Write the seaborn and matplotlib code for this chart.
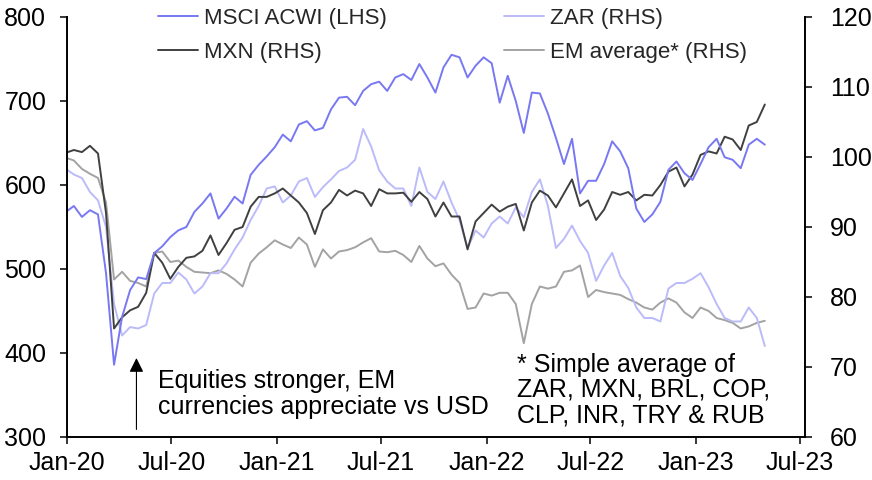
import matplotlib
matplotlib.use("Agg")
import matplotlib.pyplot as plt
import matplotlib.dates as mdates
import pandas as pd
import seaborn as sns

# ---------------------------------------- DATA ----------------------------------------
# fortnightly readings, Dec-19 to May-23
dates = pd.date_range("2019-12-30", periods=88, freq="14D")

acwi = [568, 575, 562, 570, 565, 495, 386, 443, 475, 490,
        488, 519, 527, 538, 546, 550, 568, 578, 590, 560,
        572, 586, 578, 612, 624, 634, 645, 660, 652, 672,
        676, 665, 668, 690, 704, 705, 695, 712, 720, 723,
        712, 728, 732, 725, 744, 728, 710, 740, 755, 752,
        728, 742, 752, 745, 698, 730, 700, 662, 710, 709,
        685, 656, 625, 655, 590, 605, 605, 625, 652, 640,
        620, 572, 556, 565, 580, 618, 628, 614, 606, 625,
        645, 655, 633, 630, 620, 648, 655, 648]

mxn = [100.6, 101.0, 100.7, 101.6, 100.5, 92.0, 75.5, 77.1, 78.1, 78.6,
       80.6, 86.3, 84.9, 82.6, 84.3, 85.6, 85.8, 86.6, 88.8, 86.0,
       87.7, 89.6, 90.0, 92.9, 94.3, 94.3, 94.8, 95.5, 94.5, 93.5,
       92.0, 89.0, 92.4, 93.5, 95.3, 94.5, 95.2, 94.8, 93.0, 95.4,
       94.8, 94.8, 94.9, 93.6, 95.0, 94.0, 91.5, 93.5, 91.5, 91.5,
       86.8, 90.8, 92.0, 93.2, 92.2, 92.9, 93.3, 89.5, 93.5, 95.2,
       94.5, 92.8, 94.8, 96.8, 93.0, 93.8, 91.0, 92.5, 95.0, 94.6,
       95.0, 93.8, 94.6, 94.5, 96.0, 97.9, 98.5, 95.8, 97.5, 100.3,
       100.8, 100.5, 102.9, 102.5, 101.0, 104.5, 105.0, 107.5]

zar = [98.3, 97.5, 97.0, 95.0, 93.8, 90.0, 79.0, 74.5, 75.7, 75.5,
       76.0, 80.5, 82.0, 82.0, 83.5, 82.5, 80.5, 81.5, 83.4, 83.4,
       84.8, 86.8, 88.5, 91.0, 93.0, 95.5, 95.8, 93.5, 94.5, 96.5,
       97.0, 94.3, 95.7, 96.8, 98.0, 98.5, 99.6, 104.0, 101.5, 98.1,
       96.5, 95.5, 95.5, 93.0, 98.5, 95.0, 94.0, 96.5, 93.5, 91.0,
       87.0, 89.5, 88.5, 90.5, 91.5, 90.5, 92.8, 91.4, 95.0, 96.8,
       93.0, 87.0, 88.3, 90.2, 88.0, 86.3, 82.3, 84.5, 86.3, 83.0,
       81.3, 78.5, 77.0, 77.0, 76.5, 81.2, 82.0, 82.0, 82.6, 83.4,
       81.4, 79.0, 77.0, 76.5, 76.5, 78.5, 77.0, 73.0]

em_avg = [99.9, 99.5, 98.3, 97.6, 97.0, 93.5, 82.5, 83.6, 82.3, 82.0,
          81.5, 86.3, 86.5, 85.0, 85.2, 84.3, 83.6, 83.5, 83.4, 83.8,
          83.3, 82.5, 81.5, 84.9, 86.2, 87.1, 88.1, 87.5, 87.0, 88.5,
          87.5, 84.3, 86.8, 85.5, 86.5, 86.7, 87.1, 87.8, 88.4, 86.5,
          86.4, 86.6, 86.0, 85.0, 87.3, 85.5, 84.4, 84.8, 83.2, 82.0,
          78.3, 78.5, 80.5, 80.2, 80.6, 80.6, 79.0, 73.4, 79.0, 81.5,
          81.2, 81.5, 83.6, 83.8, 84.5, 80.0, 81.0, 80.7, 80.5, 80.3,
          79.7, 79.2, 78.5, 78.2, 79.2, 79.8, 79.2, 77.8, 77.0, 78.5,
          78.0, 77.0, 76.7, 76.3, 75.5, 75.8, 76.3, 76.6]

df = pd.DataFrame({"date": dates, "acwi": acwi, "mxn": mxn, "zar": zar, "em": em_avg})

# ---------------------------------------- STYLE ----------------------------------------
sns.set_theme(style="ticks")
plt.rcParams["font.family"] = ["Liberation Sans", "DejaVu Sans"]
plt.rcParams.update({
    "font.size": 18,
    "axes.edgecolor": "black",
    "axes.linewidth": 1.4,
    "xtick.color": "black",
    "ytick.color": "black",
    "xtick.major.size": 5,
    "ytick.major.size": 5,
    "xtick.major.width": 1.1,
    "ytick.major.width": 1.1,
})

c_acwi = "#7878F2"
c_zar = "#BBBBFA"
c_mxn = "#404040"
c_em = "#A3A3A3"

fig = plt.figure(figsize=(8.72, 4.8), dpi=100)
ax = fig.add_axes([67 / 872, 43 / 480, 738 / 872, 420 / 480])
ax2 = ax.twinx()

# RHS first so the equity line sits on top
sns.lineplot(x="date", y="em", data=df, ax=ax2, color=c_em, lw=1.4, label="EM average* (RHS)", legend=False)
sns.lineplot(x="date", y="zar", data=df, ax=ax2, color=c_zar, lw=1.4, label="ZAR (RHS)", legend=False)
sns.lineplot(x="date", y="mxn", data=df, ax=ax2, color=c_mxn, lw=1.4, label="MXN (RHS)", legend=False)
sns.lineplot(x="date", y="acwi", data=df, ax=ax, color=c_acwi, lw=1.4, label="MSCI ACWI (LHS)", legend=False)

ax.set_zorder(ax2.get_zorder() + 1)
ax.patch.set_visible(False)

ax.set_ylim(300, 800)
ax.set_yticks(range(300, 801, 100))
ax2.set_ylim(60, 120)
ax2.set_yticks(range(60, 121, 10))
ax.set_xlim(pd.Timestamp("2020-01-01"), pd.Timestamp("2023-07-10"))
ax.xaxis.set_major_locator(mdates.MonthLocator(bymonth=[1, 7]))
ax.xaxis.set_major_formatter(mdates.DateFormatter("%b-%y"))

for a in (ax, ax2):
    a.set_xlabel("")
    a.set_ylabel("")
    a.spines["top"].set_visible(False)
    a.tick_params(axis="x", labelsize=18, pad=5)
ax.tick_params(axis="y", labelsize=18, pad=10)
ax2.tick_params(axis="y", labelsize=18, pad=13)
ax.spines["right"].set_visible(False)
ax2.spines["left"].set_visible(False)
ax2.spines["bottom"].set_visible(False)
ax2.spines["right"].set_visible(True)

# ---------------------------------------- LEGEND ----------------------------------------
h1, l1 = ax.get_legend_handles_labels()
h2, l2 = ax2.get_legend_handles_labels()
handles = {l: h for h, l in zip(h1 + h2, l1 + l2)}
order = ["MSCI ACWI (LHS)", "MXN (RHS)", "ZAR (RHS)", "EM average* (RHS)"]
fig.legend([handles[k] for k in order], order, loc="upper left",
           bbox_to_anchor=(158 / 872, 1 - 8 / 480), ncol=2, frameon=False,
           fontsize=16, handlelength=1.8, handletextpad=0.25, columnspacing=5.3,
           labelspacing=0.58, borderpad=0, borderaxespad=0)

# ---------------------------------------- ANNOTATIONS ----------------------------------------
arrow_x = pd.Timestamp("2020-05-01")
ax.annotate("", xy=(arrow_x, 394), xytext=(arrow_x, 309),
            arrowprops=dict(arrowstyle="-|>,head_length=0.86,head_width=0.43",
                            mutation_scale=10, color="black", lw=0.8,
                            shrinkA=0, shrinkB=0))
ax.text(0.1233, 0.1024, "Equities stronger, EM\ncurrencies appreciate vs USD",
        transform=ax.transAxes, ha="left", va="center", fontsize=18,
        linespacing=1.07, color="black")
ax.text(0.6098, 0.112, "* Simple average of\nZAR, MXN, BRL, COP,\nCLP, INR, TRY & RUB",
        transform=ax.transAxes, ha="left", va="center", fontsize=18,
        linespacing=1.07, color="black")

fig.savefig("out.png", dpi=100)
